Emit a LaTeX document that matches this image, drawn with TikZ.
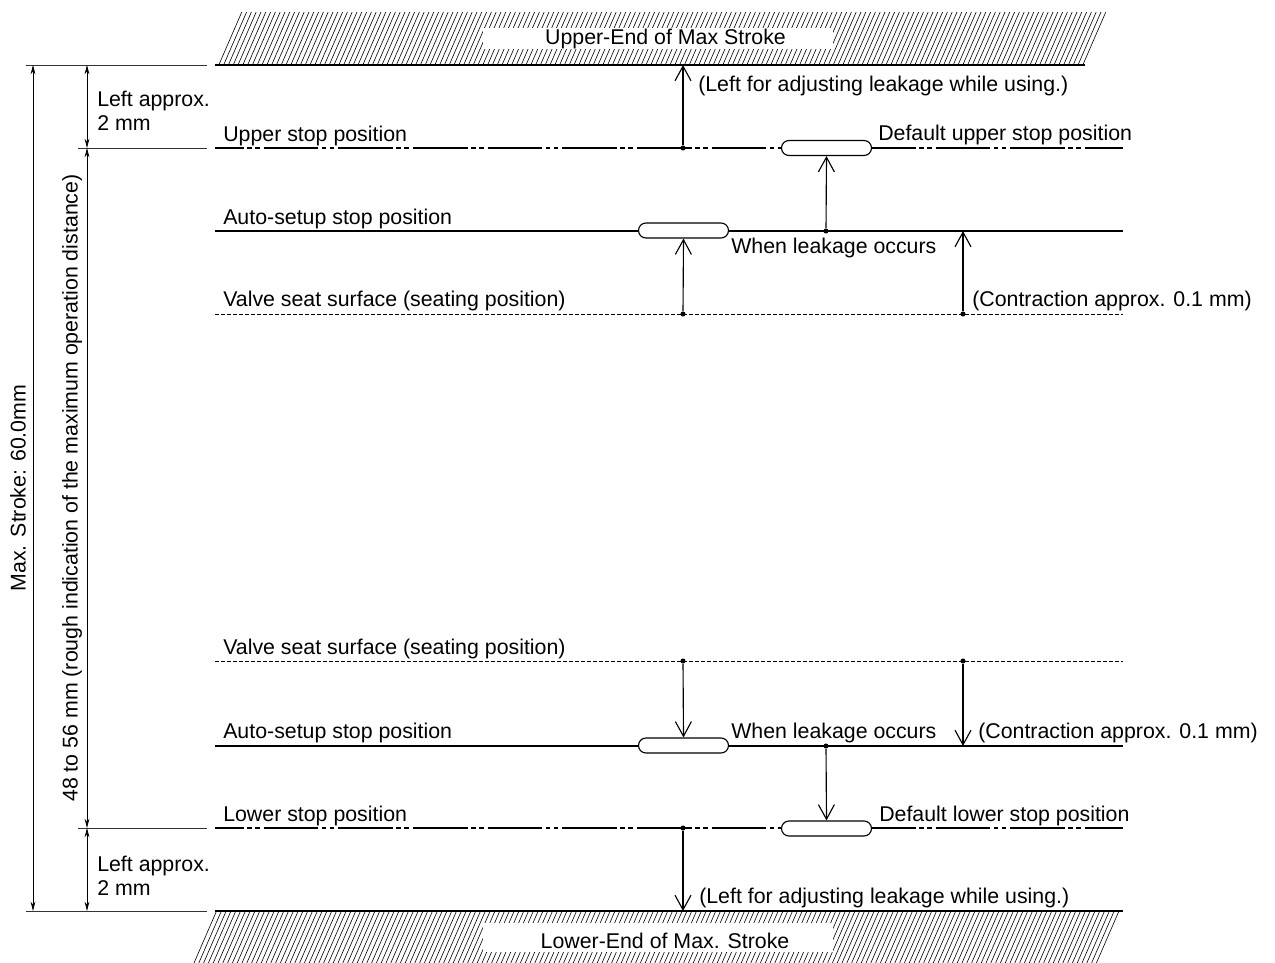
\documentclass[tikz,border=0pt]{standalone}
\usepackage{fontspec}
\setmainfont{Liberation Sans}
\usetikzlibrary{arrows.meta}
\begin{document}
\begin{tikzpicture}[x=0.75pt,y=-0.75pt,
 every node/.style={font=\fontsize{16}{19}\selectfont, inner sep=0pt},
 lbl/.style={anchor=base west},
 mainline/.style={line width=0.85pt},
 chain/.style={line width=0.85pt, dash pattern=on 41pt off 2.5pt on 3.5pt off 2.5pt on 3.5pt off 3pt, dash phase=19.5pt},
 seat/.style={line width=0.7pt, dash pattern=on 3pt off 1.5pt},
 ext/.style={line width=0.6pt, black!80},
 dimarrow/.style={line width=0.6pt, {Stealth[length=7pt,width=3.6pt]}-{Stealth[length=7pt,width=3.6pt]}},
 vee/.style={line width=0.85pt, -{Straight Barb[length=11pt,width=12pt]}},
 pill/.style={draw, fill=white, line width=0.85pt, rounded corners=5.6pt, minimum width=67.5pt, minimum height=11.25pt},
 dot/.style={circle, fill, inner sep=0pt, minimum size=3.8pt},
 hatch/.style={line width=0.45pt},
]
\useasboundingbox (0,0) rectangle (1275,963);

% ---------- hatched ends ----------
\begin{scope}
\clip (215,65) -- (238,12) -- (1107,12) -- (1085,65) -- cycle;
\foreach \i in {0,...,200} \draw[hatch] ({190+\i*4.8},65) -- ++(23,-53);
\end{scope}
\fill[white] (483,28) rectangle (833,49);
\node (upperend) at (665.5,39) {Upper-End of Max Stroke};
\draw[mainline] (215,65) coordinate (topL) -- (1085,65);

\begin{scope}
\clip (215,911) -- (1123,911) -- (1100,963) -- (192,963) -- cycle;
\foreach \i in {0,...,200} \draw[hatch] ({170+\i*4.8},963) -- ++(23,-53);
\end{scope}
\fill[white] (483,923) rectangle (833,952);
\node (lowerend) at (665,941) {Lower-End of Max. Stroke};
\draw[mainline] (215,911) coordinate (botL) -- (1123,911);

% ---------- extension lines and dimensions ----------
\draw[ext] (26,65) coordinate (e1) -- (207,65);
\draw[ext] (78,148) -- (207,148);
\draw[ext] (78,828) -- (207,828);
\draw[ext] (26,911) coordinate (e4) -- (207,911);
\coordinate (m1) at (33,65);
\coordinate (m2) at (33,911);
\coordinate (n1) at (87,65);
\coordinate (n2) at (87,148);
\coordinate (n3) at (87,828);
\coordinate (n4) at (87,911);
\draw[dimarrow] (m1) -- (m2);
\draw[dimarrow] (n1) -- (n2);
\draw[dimarrow] (n2) -- (n3);
\draw[dimarrow] (n3) -- (n4);
\node[rotate=90] (maxs) at (18,488) {Max. Stroke: 60.0mm};
\node[rotate=90] (range) at (72,488) {48 to 56 mm (rough indication of the maximum operation distance)};
\node[lbl] (la1) at (97,107) {Left approx.};
\node[lbl] (la2) at (97,131) {2 mm};
\node[lbl] (lb1) at (97,871) {Left approx.};
\node[lbl] (lb2) at (97,895) {2 mm};

% ---------- upper group ----------
\draw[chain] (215,148) -- (1123,148);
\draw[mainline] (215,231) -- (1123,231);
\draw[seat] (215,314) -- (1123,314);
\node[lbl] at (223,142) {Upper stop position};
\node[lbl] at (878,141) {Default upper stop position};
\node[lbl] at (698,92) {(Left for adjusting leakage while using.)};
\node[lbl] at (223,224) {Auto-setup stop position};
\node[lbl] at (731,253) {When leakage occurs};
\node[lbl] at (223,306) {Valve seat surface (seating position)};
\node[lbl] at (972,306) {(Contraction approx. 0.1 mm)};

\node[pill] (pu) at (826.5,148) {};
\node[pill] (pa) at (683.5,230.5) {};
\node[dot] (d1) at (683,148) {};
\node[dot] (d2) at (826,231) {};
\node[dot] (d3) at (683,314) {};
\node[dot] (d4) at (963,314) {};
\coordinate (t1) at (683,65);
\coordinate (c1) at (963,231);
\draw[vee] (d1) -- (t1);
\draw[vee] (d2) -- (pu.south);
\draw[vee] (d3) -- (pa.south);
\draw[vee] (d4) -- (c1);

% ---------- lower group ----------
\draw[seat] (215,661) -- (1123,661);
\draw[mainline] (215,746) -- (1123,746);
\draw[chain] (215,828) -- (1123,828);
\node[lbl] at (223,654) {Valve seat surface (seating position)};
\node[lbl] at (223,738) {Auto-setup stop position};
\node[lbl] at (731,738) {When leakage occurs};
\node[lbl] at (978,738) {(Contraction approx. 0.1 mm)};
\node[lbl] at (223,821) {Lower stop position};
\node[lbl] at (879,821) {Default lower stop position};
\node[lbl] at (699,903) {(Left for adjusting leakage while using.)};

\node[pill] (la) at (683.5,745.5) {};
\node[pill] (ld) at (826.5,828.5) {};
\node[dot] (d5) at (683,661) {};
\node[dot] (d6) at (963,661) {};
\node[dot] (d7) at (826,746) {};
\node[dot] (d8) at (683,828) {};
\coordinate (c2) at (963,746);
\coordinate (b1) at (683,911);
\draw[vee] (d5) -- (la.north);
\draw[vee] (d6) -- (c2);
\draw[vee] (d7) -- (ld.north);
\draw[vee] (d8) -- (b1);
\end{tikzpicture}
\end{document}
